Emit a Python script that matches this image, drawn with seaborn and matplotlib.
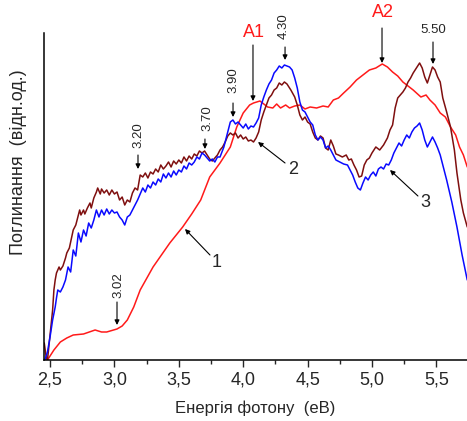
import matplotlib
matplotlib.use('Agg')
import matplotlib.pyplot as plt
import pandas as pd
import seaborn as sns
from matplotlib.ticker import MultipleLocator, FuncFormatter

# photon energy (eV) and absorption (arb. units)
e1 = [2.47, 2.48, 2.53, 2.58, 2.63, 2.68, 2.76, 2.85, 2.90, 2.94, 3.02, 3.06, 3.10, 3.15, 3.20, 3.30,
      3.43, 3.53, 3.60, 3.67, 3.74, 3.82, 3.90, 3.95, 4.00, 4.05, 4.08, 4.13, 4.16, 4.19, 4.23, 4.26,
      4.29, 4.33, 4.36, 4.40, 4.44, 4.48, 4.52, 4.57, 4.62, 4.66, 4.70, 4.74, 4.78, 4.83, 4.88, 4.93,
      4.98, 5.03, 5.08, 5.12, 5.16, 5.20, 5.24, 5.28, 5.32, 5.38, 5.42, 5.45, 5.49, 5.53, 5.57, 5.61,
      5.65, 5.68, 5.71, 5.74]
a1 = [2, 0, 10, 18, 22, 25, 26, 30, 28, 28, 31, 34, 40, 53, 70, 93,
      117, 133, 146, 160, 183, 197, 213, 233, 247, 255, 257, 259, 256, 253, 252, 256,
      252, 255, 252, 254, 255, 251, 253, 252, 254, 253, 260, 262, 267, 273, 280, 285,
      290, 292, 296, 293, 288, 284, 278, 274, 270, 263, 265, 260, 255, 247, 243, 233,
      225, 213, 205, 193]

e2 = [2.455, 2.47, 2.48, 2.50, 2.52, 2.53, 2.54, 2.55, 2.57, 2.58, 2.60, 2.62, 2.63, 2.65, 2.66, 2.68,
      2.70, 2.71, 2.73, 2.74, 2.76, 2.77, 2.79, 2.81, 2.82, 2.84, 2.86, 2.87, 2.89, 2.90, 2.92, 2.94,
      2.96, 2.98, 3.00, 3.02, 3.04, 3.06, 3.08, 3.10, 3.12, 3.14, 3.16, 3.18, 3.20, 3.22, 3.24, 3.26,
      3.28, 3.30, 3.32, 3.34, 3.36, 3.38, 3.40, 3.42, 3.44, 3.46, 3.48, 3.50, 3.52, 3.54, 3.56, 3.58,
      3.60, 3.62, 3.64, 3.66, 3.68, 3.70, 3.72, 3.74, 3.76, 3.78, 3.80, 3.82, 3.84, 3.86, 3.88, 3.90,
      3.92, 3.94, 3.96, 3.98, 4.00, 4.02, 4.04, 4.06, 4.08, 4.10, 4.12, 4.14, 4.16, 4.18, 4.20, 4.22,
      4.24, 4.26, 4.28, 4.30, 4.32, 4.34, 4.37, 4.40, 4.42, 4.44, 4.46, 4.48, 4.50, 4.52, 4.54, 4.56,
      4.58, 4.60, 4.62, 4.64, 4.66, 4.68, 4.70, 4.72, 4.74, 4.77, 4.80, 4.82, 4.84, 4.86, 4.88, 4.90,
      4.92, 4.94, 4.96, 4.98, 5.00, 5.03, 5.06, 5.09, 5.12, 5.14, 5.16, 5.18, 5.20, 5.22, 5.24, 5.26,
      5.28, 5.30, 5.32, 5.35, 5.37, 5.39, 5.41, 5.43, 5.45, 5.47, 5.49, 5.51, 5.53, 5.55, 5.58, 5.61,
      5.64, 5.66, 5.69, 5.71, 5.74]
a2 = [17, 3, 0, 25, 50, 70, 80, 87, 93, 90, 94, 102, 107, 112, 118, 130,
      135, 140, 150, 145, 150, 146, 152, 157, 152, 162, 168, 172, 166, 171, 167, 170,
      165, 170, 166, 168, 160, 163, 155, 160, 158, 167, 172, 170, 185, 183, 187, 182,
      188, 186, 191, 188, 195, 191, 194, 198, 193, 199, 196, 200, 197, 203, 199, 204,
      201, 206, 204, 209, 207, 209, 205, 201, 199, 202, 205, 210, 213, 218, 224, 227,
      225, 227, 222, 225, 221, 223, 219, 220, 218, 222, 228, 240, 248, 255, 262, 265,
      270, 272, 277, 275, 278, 276, 270, 263, 255, 245, 240, 243, 238, 236, 228, 222,
      220, 224, 222, 212, 210, 220, 214, 206, 205, 203, 205, 200, 201, 195, 190, 183,
      184, 195, 200, 202, 207, 213, 210, 215, 222, 230, 235, 252, 262, 265, 268, 272,
      278, 282, 287, 293, 297, 292, 283, 277, 285, 293, 290, 283, 278, 262, 248, 233,
      210, 187, 160, 147, 133]

e3 = [2.46, 2.48, 2.50, 2.52, 2.54, 2.55, 2.56, 2.58, 2.60, 2.62, 2.64, 2.66, 2.68, 2.70, 2.72, 2.74,
      2.76, 2.78, 2.80, 2.82, 2.84, 2.86, 2.88, 2.90, 2.92, 2.94, 2.96, 2.98, 3.00, 3.02, 3.04, 3.06,
      3.08, 3.10, 3.12, 3.14, 3.16, 3.18, 3.20, 3.22, 3.24, 3.26, 3.28, 3.30, 3.32, 3.34, 3.36, 3.38,
      3.40, 3.42, 3.44, 3.46, 3.48, 3.50, 3.52, 3.54, 3.56, 3.58, 3.60, 3.62, 3.64, 3.66, 3.68, 3.70,
      3.72, 3.74, 3.76, 3.78, 3.80, 3.82, 3.85, 3.87, 3.90, 3.92, 3.94, 3.96, 3.98, 4.00, 4.02, 4.04,
      4.06, 4.08, 4.10, 4.12, 4.14, 4.16, 4.18, 4.20, 4.22, 4.24, 4.26, 4.28, 4.30, 4.32, 4.34, 4.36,
      4.38, 4.40, 4.42, 4.44, 4.46, 4.48, 4.50, 4.52, 4.54, 4.56, 4.58, 4.60, 4.62, 4.64, 4.66, 4.68,
      4.70, 4.72, 4.75, 4.78, 4.81, 4.83, 4.85, 4.87, 4.89, 4.91, 4.93, 4.95, 4.97, 4.99, 5.01, 5.03,
      5.05, 5.07, 5.09, 5.11, 5.13, 5.15, 5.17, 5.19, 5.21, 5.23, 5.25, 5.27, 5.29, 5.31, 5.33, 5.35,
      5.37, 5.39, 5.41, 5.43, 5.45, 5.47, 5.49, 5.51, 5.53, 5.55, 5.58, 5.62, 5.66, 5.70, 5.74]
a3 = [0, 8, 23, 40, 53, 62, 70, 68, 73, 80, 93, 88, 110, 104, 127, 118,
      130, 124, 137, 132, 140, 150, 143, 150, 145, 151, 146, 150, 147, 148, 143, 140,
      135, 143, 145, 150, 155, 160, 166, 172, 168, 175, 172, 178, 175, 181, 178, 186,
      182, 187, 183, 189, 185, 190, 188, 194, 191, 197, 195, 198, 203, 201, 207, 205,
      202, 199, 201, 198, 203, 203, 213, 223, 238, 240, 236, 238, 235, 232, 236, 231,
      234, 233, 237, 242, 255, 263, 270, 276, 280, 287, 290, 294, 292, 295, 294, 293,
      290, 282, 272, 258, 250, 248, 243, 238, 235, 225, 220, 223, 220, 212, 214, 210,
      205, 200, 198, 196, 195, 190, 185, 178, 172, 170, 177, 183, 180, 185, 188, 184,
      191, 193, 191, 196, 195, 200, 207, 212, 217, 214, 220, 225, 222, 228, 232, 234,
      237, 230, 220, 213, 218, 223, 218, 212, 205, 195, 180, 158, 133, 105, 80]

peak_labels = ['3.02', '3.20', '3.70', '3.90', '4.30', '5.50']

df = pd.concat([
    pd.DataFrame({'E': e1, 'A': a1, 'curve': '1'}),
    pd.DataFrame({'E': e2, 'A': a2, 'curve': '2'}),
    pd.DataFrame({'E': e3, 'A': a3, 'curve': '3'}),
])

sns.set_style('white')
plt.rcParams['font.family'] = ['Liberation Sans', 'DejaVu Sans']

fig = plt.figure(figsize=(4.67, 4.21), dpi=100)
ax = fig.add_axes([0.0942, 0.1449, 0.9058, 0.8551])

sns.lineplot(data=df, x='E', y='A', hue='curve', sort=False, legend=False,
             palette={'1': '#ff1a1a', '2': '#7f0f0f', '3': '#0a0aff'}, linewidth=1.1, ax=ax)

ax.set_xlim(2.453, 5.738)
ax.set_ylim(0, 360)
ax.spines['top'].set_visible(False)
ax.spines['right'].set_visible(False)
ax.spines['left'].set_bounds(0, 327)
for s in ['left', 'bottom']:
    ax.spines[s].set_color('black')
    ax.spines[s].set_linewidth(1.1)

ax.set_yticks([])
ax.xaxis.set_major_locator(MultipleLocator(0.5))
ax.xaxis.set_minor_locator(MultipleLocator(0.25))
ax.xaxis.set_major_formatter(FuncFormatter(lambda v, p: f'{v:.1f}'.replace('.', ',')))
ax.tick_params(axis='x', which='major', direction='out', length=5, width=1, bottom=True, labelsize=13, pad=3)
ax.tick_params(axis='x', which='minor', direction='out', length=3, width=1, bottom=True)

ax.set_xlabel('Енергія фотону  (еВ)', fontsize=12, labelpad=9)
ax.set_ylabel('Поглинання  (відн.од.)', fontsize=13)
ax.yaxis.set_label_coords(-0.04, 0.55)

arw = dict(arrowstyle='-|>', color='black', lw=0.8, mutation_scale=7, shrinkA=0, shrinkB=0)

# band labels
ax.text(4.084, 327, 'A1', color='#ff1a1a', fontsize=13, ha='center', va='center')
ax.annotate('', xy=(4.076, 259), xytext=(4.076, 315), arrowprops=arw)
ax.text(5.085, 347, 'A2', color='#ff1a1a', fontsize=13, ha='center', va='center')
ax.annotate('', xy=(5.078, 297), xytext=(5.078, 332), arrowprops=arw)

# peak positions
ax.text(3.028, 75, peak_labels[0], rotation=90, fontsize=9.5, ha='center', va='center')
ax.annotate('', xy=(3.020, 35), xytext=(3.020, 58), arrowprops=arw)
ax.text(3.183, 225, peak_labels[1], rotation=90, fontsize=9.5, ha='center', va='center')
ax.annotate('', xy=(3.183, 191), xytext=(3.183, 205), arrowprops=arw)
ax.text(3.719, 242, peak_labels[2], rotation=90, fontsize=9.5, ha='center', va='center')
ax.annotate('', xy=(3.703, 211), xytext=(3.703, 221), arrowprops=arw)
ax.text(3.921, 280, peak_labels[3], rotation=90, fontsize=9.5, ha='center', va='center')
ax.annotate('', xy=(3.921, 243), xytext=(3.921, 257), arrowprops=arw)
ax.text(4.317, 334, peak_labels[4], rotation=90, fontsize=9.5, ha='center', va='center')
ax.annotate('', xy=(4.325, 300), xytext=(4.325, 313), arrowprops=arw)
ax.text(5.474, 330, peak_labels[5], fontsize=9.5, ha='center', va='center')
ax.annotate('', xy=(5.474, 296), xytext=(5.474, 318), arrowprops=arw)

# curve numbers
ax.text(3.797, 97, '1', fontsize=13, ha='center', va='center')
ax.annotate('', xy=(3.548, 131), xytext=(3.742, 105), arrowprops=arw)
ax.text(4.387, 190, '2', fontsize=13, ha='center', va='center')
ax.annotate('', xy=(4.115, 218), xytext=(4.325, 197), arrowprops=arw)
ax.text(5.411, 157, '3', fontsize=13, ha='center', va='center')
ax.annotate('', xy=(5.140, 190), xytext=(5.357, 164), arrowprops=arw)

fig.savefig('out.png', dpi=100)
